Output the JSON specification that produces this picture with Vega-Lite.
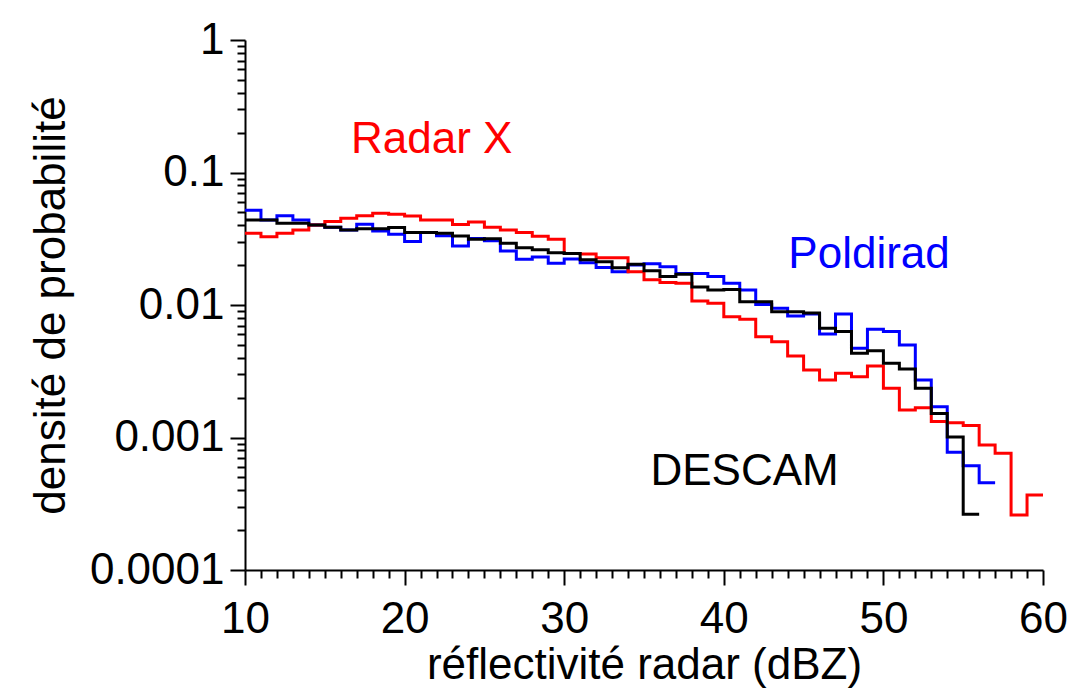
{
  "$schema": "https://vega.github.io/schema/vega-lite/v6.json",
  "width": 798,
  "height": 530,
  "autosize": {"type": "none"},
  "padding": {"left": 245, "top": 40, "right": 25, "bottom": 123},
  "background": "white",
  "config": {
    "view": {"stroke": null},
    "font": "Liberation Sans",
    "axis": {
      "labelFont": "Liberation Sans",
      "titleFont": "Liberation Sans",
      "labelFontSize": 44,
      "titleFontSize": 44,
      "titleFontWeight": "normal",
      "labelColor": "black",
      "titleColor": "black",
      "domainColor": "black",
      "domainWidth": 2,
      "tickColor": "black",
      "tickWidth": 2,
      "grid": false,
      "labelOverlap": false,
      "labelFlush": false
    }
  },
  "datasets": {
    "curves": [
      {"series": "Poldirad", "dbz": 10, "p": 0.052},
      {"series": "Poldirad", "dbz": 11, "p": 0.0438},
      {"series": "Poldirad", "dbz": 12, "p": 0.0472},
      {"series": "Poldirad", "dbz": 13, "p": 0.0438},
      {"series": "Poldirad", "dbz": 14, "p": 0.0402},
      {"series": "Poldirad", "dbz": 15, "p": 0.0386},
      {"series": "Poldirad", "dbz": 16, "p": 0.0368},
      {"series": "Poldirad", "dbz": 17, "p": 0.0407},
      {"series": "Poldirad", "dbz": 18, "p": 0.0362},
      {"series": "Poldirad", "dbz": 19, "p": 0.0342},
      {"series": "Poldirad", "dbz": 20, "p": 0.0301},
      {"series": "Poldirad", "dbz": 21, "p": 0.0352},
      {"series": "Poldirad", "dbz": 22, "p": 0.0333},
      {"series": "Poldirad", "dbz": 23, "p": 0.0279},
      {"series": "Poldirad", "dbz": 24, "p": 0.0318},
      {"series": "Poldirad", "dbz": 25, "p": 0.0305},
      {"series": "Poldirad", "dbz": 26, "p": 0.0256},
      {"series": "Poldirad", "dbz": 27, "p": 0.0221},
      {"series": "Poldirad", "dbz": 28, "p": 0.023},
      {"series": "Poldirad", "dbz": 29, "p": 0.0207},
      {"series": "Poldirad", "dbz": 30, "p": 0.0222},
      {"series": "Poldirad", "dbz": 31, "p": 0.0208},
      {"series": "Poldirad", "dbz": 32, "p": 0.0192},
      {"series": "Poldirad", "dbz": 33, "p": 0.0178},
      {"series": "Poldirad", "dbz": 34, "p": 0.02},
      {"series": "Poldirad", "dbz": 35, "p": 0.0205},
      {"series": "Poldirad", "dbz": 36, "p": 0.0194},
      {"series": "Poldirad", "dbz": 37, "p": 0.0173},
      {"series": "Poldirad", "dbz": 38, "p": 0.0173},
      {"series": "Poldirad", "dbz": 39, "p": 0.0164},
      {"series": "Poldirad", "dbz": 40, "p": 0.0146},
      {"series": "Poldirad", "dbz": 41, "p": 0.013},
      {"series": "Poldirad", "dbz": 42, "p": 0.0101},
      {"series": "Poldirad", "dbz": 43, "p": 0.00944},
      {"series": "Poldirad", "dbz": 44, "p": 0.00826},
      {"series": "Poldirad", "dbz": 45, "p": 0.00855},
      {"series": "Poldirad", "dbz": 46, "p": 0.00604},
      {"series": "Poldirad", "dbz": 47, "p": 0.00855},
      {"series": "Poldirad", "dbz": 48, "p": 0.00471},
      {"series": "Poldirad", "dbz": 49, "p": 0.00656},
      {"series": "Poldirad", "dbz": 50, "p": 0.0063},
      {"series": "Poldirad", "dbz": 51, "p": 0.00499},
      {"series": "Poldirad", "dbz": 52, "p": 0.00272},
      {"series": "Poldirad", "dbz": 53, "p": 0.00171},
      {"series": "Poldirad", "dbz": 54, "p": 0.000773},
      {"series": "Poldirad", "dbz": 55, "p": 0.000613},
      {"series": "Poldirad", "dbz": 56, "p": 0.000456},
      {"series": "Poldirad", "dbz": 57, "p": 0.000456},
      {"series": "Radar X", "dbz": 10, "p": 0.0348},
      {"series": "Radar X", "dbz": 11, "p": 0.0328},
      {"series": "Radar X", "dbz": 12, "p": 0.0348},
      {"series": "Radar X", "dbz": 13, "p": 0.0368},
      {"series": "Radar X", "dbz": 14, "p": 0.0402},
      {"series": "Radar X", "dbz": 15, "p": 0.0426},
      {"series": "Radar X", "dbz": 16, "p": 0.0451},
      {"series": "Radar X", "dbz": 17, "p": 0.0472},
      {"series": "Radar X", "dbz": 18, "p": 0.0492},
      {"series": "Radar X", "dbz": 19, "p": 0.0484},
      {"series": "Radar X", "dbz": 20, "p": 0.047},
      {"series": "Radar X", "dbz": 21, "p": 0.0438},
      {"series": "Radar X", "dbz": 22, "p": 0.0438},
      {"series": "Radar X", "dbz": 23, "p": 0.0405},
      {"series": "Radar X", "dbz": 24, "p": 0.0423},
      {"series": "Radar X", "dbz": 25, "p": 0.0386},
      {"series": "Radar X", "dbz": 26, "p": 0.0368},
      {"series": "Radar X", "dbz": 27, "p": 0.0352},
      {"series": "Radar X", "dbz": 28, "p": 0.033},
      {"series": "Radar X", "dbz": 29, "p": 0.0314},
      {"series": "Radar X", "dbz": 30, "p": 0.0245},
      {"series": "Radar X", "dbz": 31, "p": 0.0243},
      {"series": "Radar X", "dbz": 32, "p": 0.0227},
      {"series": "Radar X", "dbz": 33, "p": 0.0227},
      {"series": "Radar X", "dbz": 34, "p": 0.0178},
      {"series": "Radar X", "dbz": 35, "p": 0.0155},
      {"series": "Radar X", "dbz": 36, "p": 0.0148},
      {"series": "Radar X", "dbz": 37, "p": 0.0146},
      {"series": "Radar X", "dbz": 38, "p": 0.0107},
      {"series": "Radar X", "dbz": 39, "p": 0.0103},
      {"series": "Radar X", "dbz": 40, "p": 0.00816},
      {"series": "Radar X", "dbz": 41, "p": 0.0078},
      {"series": "Radar X", "dbz": 42, "p": 0.00576},
      {"series": "Radar X", "dbz": 43, "p": 0.00528},
      {"series": "Radar X", "dbz": 44, "p": 0.00412},
      {"series": "Radar X", "dbz": 45, "p": 0.00323},
      {"series": "Radar X", "dbz": 46, "p": 0.00272},
      {"series": "Radar X", "dbz": 47, "p": 0.00305},
      {"series": "Radar X", "dbz": 48, "p": 0.00288},
      {"series": "Radar X", "dbz": 49, "p": 0.00347},
      {"series": "Radar X", "dbz": 50, "p": 0.00235},
      {"series": "Radar X", "dbz": 51, "p": 0.00161},
      {"series": "Radar X", "dbz": 52, "p": 0.00168},
      {"series": "Radar X", "dbz": 53, "p": 0.00132},
      {"series": "Radar X", "dbz": 54, "p": 0.00129},
      {"series": "Radar X", "dbz": 55, "p": 0.00123},
      {"series": "Radar X", "dbz": 56, "p": 0.000878},
      {"series": "Radar X", "dbz": 57, "p": 0.00076},
      {"series": "Radar X", "dbz": 58, "p": 0.00026},
      {"series": "Radar X", "dbz": 59, "p": 0.000368},
      {"series": "Radar X", "dbz": 60, "p": 0.000368},
      {"series": "DESCAM", "dbz": 10, "p": 0.0438},
      {"series": "DESCAM", "dbz": 11, "p": 0.0438},
      {"series": "DESCAM", "dbz": 12, "p": 0.0414},
      {"series": "DESCAM", "dbz": 13, "p": 0.0414},
      {"series": "DESCAM", "dbz": 14, "p": 0.0402},
      {"series": "DESCAM", "dbz": 15, "p": 0.0386},
      {"series": "DESCAM", "dbz": 16, "p": 0.0368},
      {"series": "DESCAM", "dbz": 17, "p": 0.0377},
      {"series": "DESCAM", "dbz": 18, "p": 0.0377},
      {"series": "DESCAM", "dbz": 19, "p": 0.0385},
      {"series": "DESCAM", "dbz": 20, "p": 0.0352},
      {"series": "DESCAM", "dbz": 21, "p": 0.0352},
      {"series": "DESCAM", "dbz": 22, "p": 0.0348},
      {"series": "DESCAM", "dbz": 23, "p": 0.0332},
      {"series": "DESCAM", "dbz": 24, "p": 0.0314},
      {"series": "DESCAM", "dbz": 25, "p": 0.0316},
      {"series": "DESCAM", "dbz": 26, "p": 0.0293},
      {"series": "DESCAM", "dbz": 27, "p": 0.027},
      {"series": "DESCAM", "dbz": 28, "p": 0.0261},
      {"series": "DESCAM", "dbz": 29, "p": 0.0248},
      {"series": "DESCAM", "dbz": 30, "p": 0.0245},
      {"series": "DESCAM", "dbz": 31, "p": 0.022},
      {"series": "DESCAM", "dbz": 32, "p": 0.0212},
      {"series": "DESCAM", "dbz": 33, "p": 0.0191},
      {"series": "DESCAM", "dbz": 34, "p": 0.0203},
      {"series": "DESCAM", "dbz": 35, "p": 0.0181},
      {"series": "DESCAM", "dbz": 36, "p": 0.0164},
      {"series": "DESCAM", "dbz": 37, "p": 0.0171},
      {"series": "DESCAM", "dbz": 38, "p": 0.0137},
      {"series": "DESCAM", "dbz": 39, "p": 0.013},
      {"series": "DESCAM", "dbz": 40, "p": 0.0131},
      {"series": "DESCAM", "dbz": 41, "p": 0.0106},
      {"series": "DESCAM", "dbz": 42, "p": 0.0106},
      {"series": "DESCAM", "dbz": 43, "p": 0.0089},
      {"series": "DESCAM", "dbz": 44, "p": 0.0089},
      {"series": "DESCAM", "dbz": 45, "p": 0.0087},
      {"series": "DESCAM", "dbz": 46, "p": 0.00667},
      {"series": "DESCAM", "dbz": 47, "p": 0.0063},
      {"series": "DESCAM", "dbz": 48, "p": 0.00432},
      {"series": "DESCAM", "dbz": 49, "p": 0.00452},
      {"series": "DESCAM", "dbz": 50, "p": 0.00363},
      {"series": "DESCAM", "dbz": 51, "p": 0.00329},
      {"series": "DESCAM", "dbz": 52, "p": 0.00235},
      {"series": "DESCAM", "dbz": 53, "p": 0.00152},
      {"series": "DESCAM", "dbz": 54, "p": 0.00101},
      {"series": "DESCAM", "dbz": 55, "p": 0.000263},
      {"series": "DESCAM", "dbz": 56, "p": 0.000263}
    ],
    "labels": [
      {"series": "Radar X", "dbz": 21.7, "p": 0.176},
      {"series": "Poldirad", "dbz": 49.1, "p": 0.0238},
      {"series": "DESCAM", "dbz": 41.3, "p": 0.00055}
    ]
  },
  "encoding": {
    "x": {
      "field": "dbz",
      "type": "quantitative",
      "scale": {"domain": [10, 60], "nice": false, "zero": false},
      "axis": {
        "title": "réflectivité radar (dBZ)",
        "values": [10,11,12,13,14,15,16,17,18,19,20,21,22,23,24,25,26,27,28,29,30,31,32,33,34,35,36,37,38,39,40,41,42,43,44,45,46,47,48,49,50,51,52,53,54,55,56,57,58,59,60],
        "labelExpr": "datum.value % 10 === 0 ? datum.label : ''",
        "tickSize": {"condition": {"test": "datum.value % 10 === 0", "value": 15}, "value": 8},
        "labelPadding": 12,
        "titlePadding": 2
      }
    },
    "y": {
      "field": "p",
      "type": "quantitative",
      "scale": {"type": "log", "domain": [0.0001, 1], "nice": false},
      "axis": {
        "title": "densité de probabilité",
        "values": [0.0001,0.0002,0.0003,0.0004,0.0005,0.0006,0.0007,0.0008,0.0009,0.001,0.002,0.003,0.004,0.005,0.006,0.007,0.008,0.009,0.01,0.02,0.03,0.04,0.05,0.06,0.07,0.08,0.09,0.1,0.2,0.3,0.4,0.5,0.6,0.7,0.8,0.9,1],
        "labelExpr": "abs(log(datum.value)/LN10 - round(log(datum.value)/LN10)) < 0.001 ? format(datum.value, '~f') : ''",
        "tickSize": {"condition": {"test": "abs(log(datum.value)/LN10 - round(log(datum.value)/LN10)) < 0.001", "value": 15}, "value": 8},
        "labelPadding": 6,
        "titlePadding": 16
      }
    },
    "color": {
      "field": "series",
      "type": "nominal",
      "scale": {"domain": ["Poldirad", "Radar X", "DESCAM"], "range": ["#0000ff", "#ff0000", "#000000"]},
      "legend": null
    }
  },
  "layer": [
    {
      "data": {"name": "curves"},
      "mark": {"type": "line", "interpolate": "step-after", "strokeWidth": 3, "clip": true}
    },
    {
      "data": {"name": "labels"},
      "mark": {"type": "text", "fontSize": 44, "font": "Liberation Sans", "align": "center", "baseline": "middle"},
      "encoding": {"text": {"field": "series"}}
    }
  ]
}
